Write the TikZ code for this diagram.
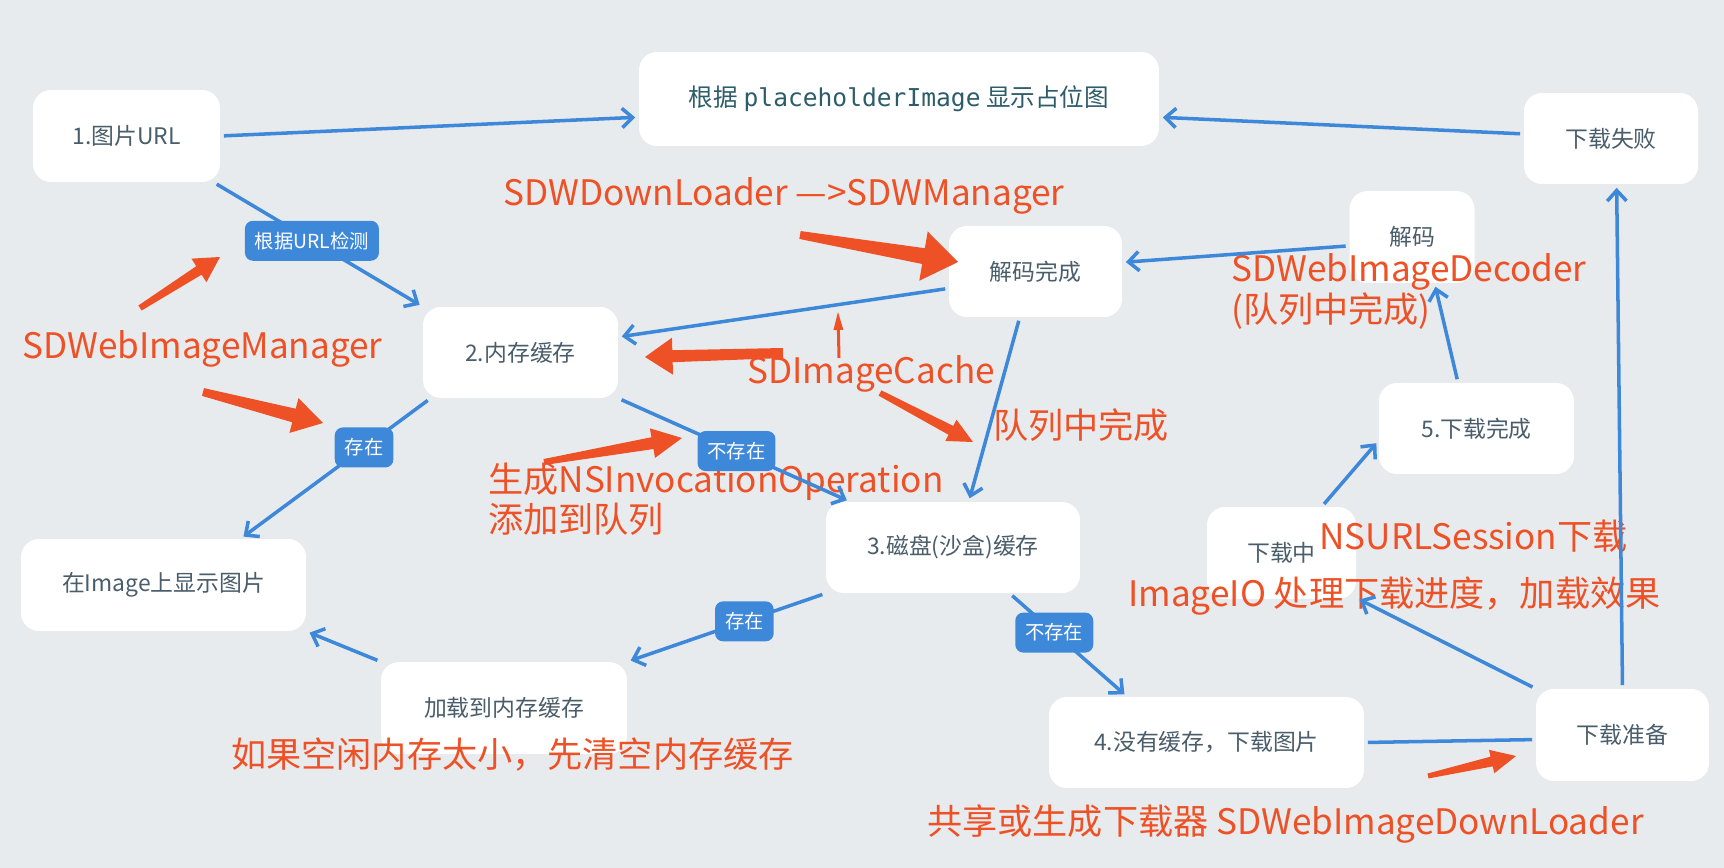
\documentclass[tikz,border=0pt]{standalone}
\usepackage{fontspec}
\setmainfont{Noto Sans CJK SC}
\setmonofont{DejaVu Sans Mono}
\usepackage{xcolor}
\usetikzlibrary{arrows.meta,calc,positioning}
\definecolor{bgGray}{HTML}{E8EBEE}
\definecolor{lineBlue}{HTML}{3E88DA}
\definecolor{noteRed}{HTML}{EE5125}
\definecolor{textSlate}{HTML}{4A5D6B}
\definecolor{textTeal}{HTML}{2D5C6B}
\tikzset{%
	box/.style   = {fill=white, rounded corners=0.36cm, text=textSlate, font=\fontsize{13}{15}\selectfont, inner sep=0pt},
	tag/.style   = {fill=lineBlue, rounded corners=0.16cm, text=white, font=\fontsize{11}{12}\selectfont, minimum height=0.8cm, inner xsep=0.2cm, inner ysep=0pt}, % Yes / No label
	note/.style  = {text=noteRed, font=\fontsize{20}{20}\selectfont, inner sep=0pt, anchor=base west, align=left},
	link/.style  = {draw=lineBlue, line width=2pt, shorten <=2pt, shorten >=2pt, -{Straight Barb[length=6pt,width=11pt]}},
	plain/.style = {draw=lineBlue, line width=2pt, shorten <=2pt, shorten >=2pt},
}
% tail, tip, tail half width, neck half width, head half width, head length
\newcommand{\fatarrow}[6]{%
	\path ($(#2)!#6!(#1)$) coordinate (fa-n);
	\fill[noteRed] ($(#1)!#3!90:(#2)$) -- ($(fa-n)!#4!90:(#2)$) -- ($(fa-n)!#5!90:(#2)$) -- (#2)
		-- ($(fa-n)!#5!-90:(#2)$) -- ($(fa-n)!#4!-90:(#2)$) -- ($(#1)!#3!-90:(#2)$) -- cycle;
}

\begin{document}
\begin{tikzpicture}[x=0.02cm, y=-0.02cm]
	\fill[bgGray] (0,0) rectangle (1724,868);
	
	\node[box, minimum width=3.74cm, minimum height=1.84cm] (url) at (126.5,136) {1.图片URL};
	\node[box, text=textTeal, font=\fontsize{14}{16}\selectfont, minimum width=10.4cm, minimum height=1.88cm] (holder) at (899,99) {根据 \texttt{placeholderImage} 显示占位图};
	\node[box, minimum width=3.48cm, minimum height=1.82cm] (fail) at (1611,138.5) {下载失败};
	\node[box, minimum width=3.9cm, minimum height=1.82cm] (mem) at (520.5,352.5) {2.内存缓存};
	\node[box, minimum width=3.46cm, minimum height=1.82cm] (decdone) at (1035.5,271.5) {解码完成};
	\node[box, minimum width=2.5cm, minimum height=1.84cm] (decode) at (1412,237) {解码};
	\node[box, minimum width=3.9cm, minimum height=1.82cm] (done5) at (1476.5,428.5) {5.下载完成};
	\node[box, minimum width=5.7cm, minimum height=1.84cm] (show) at (163.5,585) {在Image上显示图片};
	\node[box, minimum width=5.08cm, minimum height=1.82cm] (disk) at (953,547.5) {3.磁盘(沙盒)缓存};
	\node[box, minimum width=4.92cm, minimum height=1.84cm] (load) at (504,708) {加载到内存缓存};
	\node[box, minimum width=2.98cm, minimum height=1.84cm] (loading) at (1281.5,553) {下载中};
	\node[box, minimum width=6.3cm, minimum height=1.82cm] (nocache) at (1206.5,742.5) {4.没有缓存，下载图片};
	\node[box, minimum width=3.46cm, minimum height=1.84cm] (prep) at (1622.5,735) {下载准备};
	
	\node[note] (loaderNote) at (503,206) {SDWDownLoader —>SDWManager};
	\node[note] (managerNote) at (22,358) {SDWebImageManager};
	\node[note] (cacheNote) at (747,383) {SDImageCache};
	\node[note] (decoderNote) at (1231,322) {SDWebImageDecoder\\(队列中完成)};
	\node[note] (queueNote) at (993,438) {队列中完成};
	\node[note] (operationNote) at (488,532) {生成NSInvocationOperation\\添加到队列};
	\node[note] (memoryNote) at (231,767) {如果空闲内存太小，先清空内存缓存};
	\node[note] (sessionNote) at (1319,549) {NSURLSession下载};
	\node[note] (imageIONote) at (1128,606) {ImageIO 处理下载进度，加载效果};
	\node[note] (sharedNote) at (927,834) {共享或生成下载器 SDWebImageDownLoader};
	
	\draw[link] (url.east) -- (holder.184);
	\draw[link] (url.-28) -- node[tag, pos=.47] (check) {根据URL检测} (mem.north west);
	\draw[link] (fail.177) -- (holder.-4);
	\draw[link] (decdone.191) -- (mem.9);
	\draw[link] (decode.188) -- (decdone.6);
	\draw[link] (done5.112) -- (decode.-64);
	\draw[link] (decdone.-109) -- (disk.71);
	\draw[link] (prep.north) -- (fail.-83);
	\draw[link] (mem.-153) -- node[tag, pos=.35] (hit) {存在} (show.31);
	\draw[link] (mem.south east) -- node[tag, pos=.51] (miss) {不存在} (disk.156);
	\draw[link] (disk.south west) -- node[tag, pos=.41] (diskHit) {存在} (load.north east);
	\draw[link] (load.north west) -- (show.south east);
	\draw[link] (disk.-39) -- node[tag, pos=.38] (diskMiss) {不存在} (nocache.150);
	\draw[plain] (nocache.east) -- (prep.183);
	\draw[link] (prep.north west) -- (loading.-31);
	\draw[link] (loading.49) -- (done5.187);
	
	% red pointers
	\coordinate (mgrTailA) at (140,308);  \coordinate (mgrTipA) at (220,257);
	\coordinate (mgrTailB) at (203,392);  \coordinate (mgrTipB) at (323,423);
	\coordinate (loaderTail) at (800,235); \coordinate (loaderTip) at (958,262);
	\coordinate (cacheTailA) at (783,353); \coordinate (cacheTipA) at (645,357);
	\coordinate (cacheTailB) at (839,358); \coordinate (cacheTipB) at (838,312);
	\coordinate (cacheTailC) at (880,393); \coordinate (cacheTipC) at (973,442);
	\coordinate (opTail) at (544,462);     \coordinate (opTip) at (682,438);
	\coordinate (sharedTail) at (1428,776); \coordinate (sharedTip) at (1516,756);
	\fatarrow{mgrTailA}{mgrTipA}{0.06cm}{0.1cm}{0.28cm}{0.5cm}
	\fatarrow{mgrTailB}{mgrTipB}{0.08cm}{0.14cm}{0.36cm}{0.6cm}
	\fatarrow{loaderTail}{loaderTip}{0.08cm}{0.16cm}{0.5cm}{0.7cm}
	\fatarrow{cacheTailA}{cacheTipA}{0.1cm}{0.12cm}{0.37cm}{0.55cm}
	\fatarrow{cacheTailB}{cacheTipB}{0.03cm}{0.03cm}{0.1cm}{0.36cm}
	\fatarrow{cacheTailC}{cacheTipC}{0.06cm}{0.1cm}{0.24cm}{0.5cm}
	\fatarrow{opTail}{opTip}{0.06cm}{0.12cm}{0.3cm}{0.6cm}
	\fatarrow{sharedTail}{sharedTip}{0.05cm}{0.1cm}{0.24cm}{0.5cm}
\end{tikzpicture}
\end{document}
